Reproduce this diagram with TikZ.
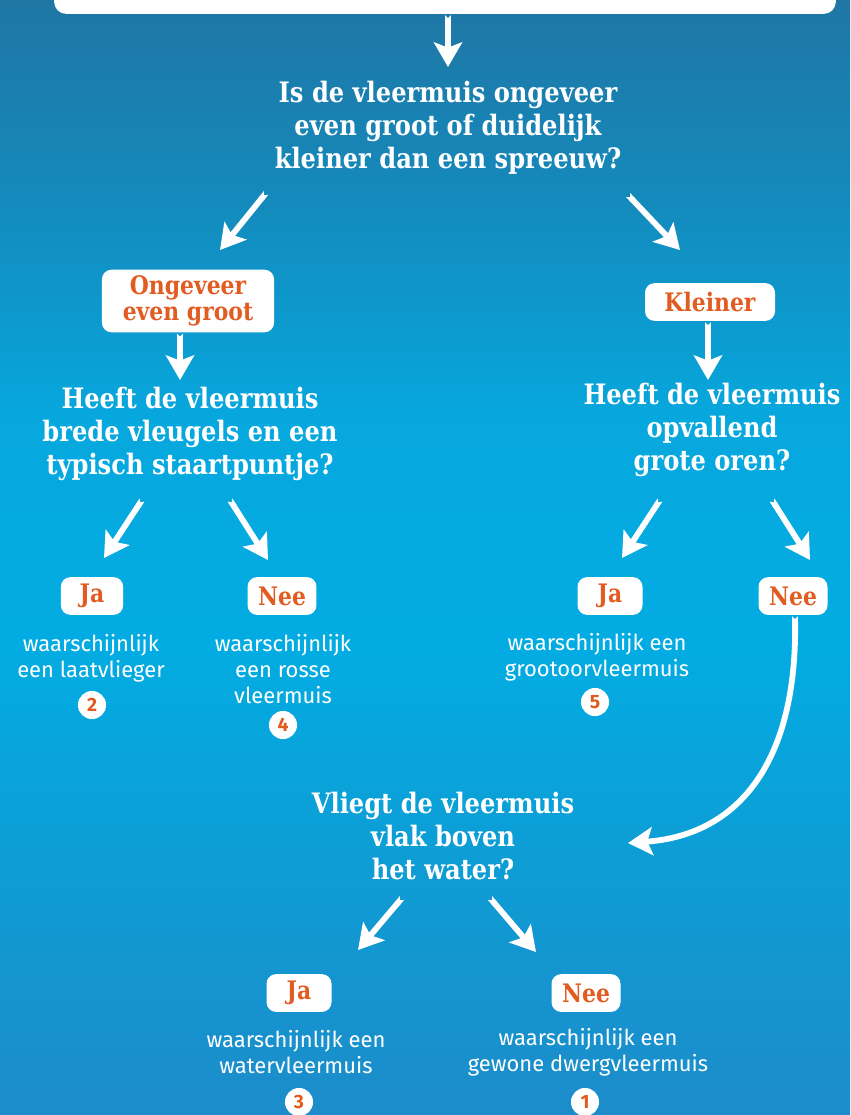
\documentclass[tikz,border=0pt]{standalone}
\usepackage{fontspec}
\setmainfont{Fira Sans}
\newfontfamily\slabfont{DejaVu Serif}[FakeStretch=0.86]
\usetikzlibrary{arrows.meta}
\definecolor{labelorange}{RGB}{226,92,33}
\definecolor{skyA}{RGB}{31,118,164}
\definecolor{skyB}{RGB}{20,138,188}
\definecolor{skyC}{RGB}{6,168,222}
\definecolor{skyD}{RGB}{2,172,226}
\definecolor{skyE}{RGB}{14,156,212}
\definecolor{skyF}{RGB}{28,140,202}
\pgfdeclareverticalshading{batsky}{100bp}{color(0bp)=(skyF); color(25bp)=(skyF);
  color(36bp)=(skyE); color(46bp)=(skyD); color(56bp)=(skyC); color(66bp)=(skyB);
  color(75bp)=(skyA); color(100bp)=(skyA)}
\tikzset{
  introbox/.style={fill=white, rounded corners=7pt,
    minimum width=445pt, minimum height=42pt},
  question/.style={text=white, align=center,
    font=\slabfont\bfseries\fontsize{16}{18.8}\selectfont},
  answer/.style={fill=white, rounded corners=5.5pt, text=labelorange, align=center,
    font=\slabfont\bfseries\fontsize{14.5}{16}\selectfont,
    minimum height=21.5pt, inner xsep=6pt},
  result/.style={text=white, align=center, font=\fontsize{12.5}{14.8}\selectfont},
  num/.style={circle, fill=white, text=labelorange, inner sep=0pt,
    minimum size=16pt, font=\bfseries\fontsize{11}{12}\selectfont},
  arr/.style={draw=white, line width=3.3pt,
    {Triangle Cap[reversed,fill=white]}-{Stealth[length=14pt,width=16pt,inset=3pt,fill=white]}},
}

\begin{document}
\begin{tikzpicture}[x=0.02cm,y=-0.02cm]
\clip (0,0) rectangle (850,1115);
\shade[shading=batsky] (0,0) rectangle (850,1115);

\node[introbox] (intro) at (445,-23) {};

% questions
\node[question] (qsize) at (448,128)
  {Is de vleermuis ongeveer\\even groot of duidelijk\\kleiner dan een spreeuw?};
\node[question] (qtail) at (190,434)
  {Heeft de vleermuis\\brede vleugels en een\\typisch staartpuntje?};
\node[question] (qears) at (712,430)
  {Heeft de vleermuis\\opvallend\\grote oren?};
\node[question] (qwater) at (443,836)
  {Vliegt de vleermuis\\vlak boven\\het water?};

% answers
\node[answer, minimum width=98pt, minimum height=35.5pt] (ong) at (188,301)
  {Ongeveer\\[-1pt]even groot};
\node[answer, minimum width=74pt] (kle) at (710,302) {Kleiner};
\node[answer, minimum width=35.5pt] (jaTail) at (92,596) {Ja};
\node[answer, minimum width=36.5pt] (neeTail) at (282,596) {Nee};
\node[answer, minimum width=37pt] (jaEars) at (610,596) {Ja};
\node[answer, minimum width=38pt] (neeEars) at (793,596) {Nee};
\node[answer, minimum width=37pt] (jaWater) at (299,993) {Ja};
\node[answer, minimum width=37pt] (neeWater) at (586,993) {Nee};

% results
\node[result] (rLaat) at (91,658) {waarschijnlijk\\een laatvlieger};
\node[result] (rRos) at (283,669) {waarschijnlijk\\een rosse\\vleermuis};
\node[result] (rGroot) at (597,657) {waarschijnlijk een\\grootoorvleermuis};
\node[result] (rWater) at (296,1052) {waarschijnlijk een\\watervleermuis};
\node[result] (rDwerg) at (588,1052) {waarschijnlijk een\\gewone dwergvleermuis};

\node[num] (n2) at (92,705) {2};
\node[num] (n4) at (283,725) {4};
\node[num] (n5) at (595,702) {5};
\node[num] (n3) at (299,1102) {3};
\node[num] (n1) at (585,1102) {1};

% arrows
\draw[arr] ([shift={(3,1)}]intro.south) -- ([shift={(0,-61)}]qsize.center);
\draw[arr] ([shift={(-182,65)}]qsize.center) -- ([shift={(32,-51)}]ong.center);
\draw[arr] ([shift={(180,67)}]qsize.center) -- ([shift={(-30,-52)}]kle.center);
\draw[arr] ([shift={(-8,1)}]ong.south) -- ([shift={(-10,-54)}]qtail.center);
\draw[arr] ([shift={(-2,1)}]kle.south) -- ([shift={(-4,-50)}]qears.center);
\draw[arr] ([shift={(-48,66)}]qtail.center) -- ([shift={(12,-38)}]jaTail.center);
\draw[arr] ([shift={(40,66)}]qtail.center) -- ([shift={(-14,-36)}]neeTail.center);
\draw[arr] ([shift={(-52,70)}]qears.center) -- ([shift={(12,-38)}]jaEars.center);
\draw[arr] ([shift={(60,70)}]qears.center) -- ([shift={(17,-36)}]neeEars.center);
\draw[arr] ([shift={(-41,62)}]qwater.center) -- ([shift={(59,-43)}]jaWater.center);
\draw[arr] ([shift={(47,62)}]qwater.center) -- ([shift={(-50,-41)}]neeWater.center);
\draw[arr] ([shift={(2,1)}]neeEars.south)
  .. controls ([shift={(4,145)}]neeEars.south) and ([shift={(297,-1)}]qwater.center)
  .. ([shift={(185,7)}]qwater.center);
\end{tikzpicture}
\end{document}
